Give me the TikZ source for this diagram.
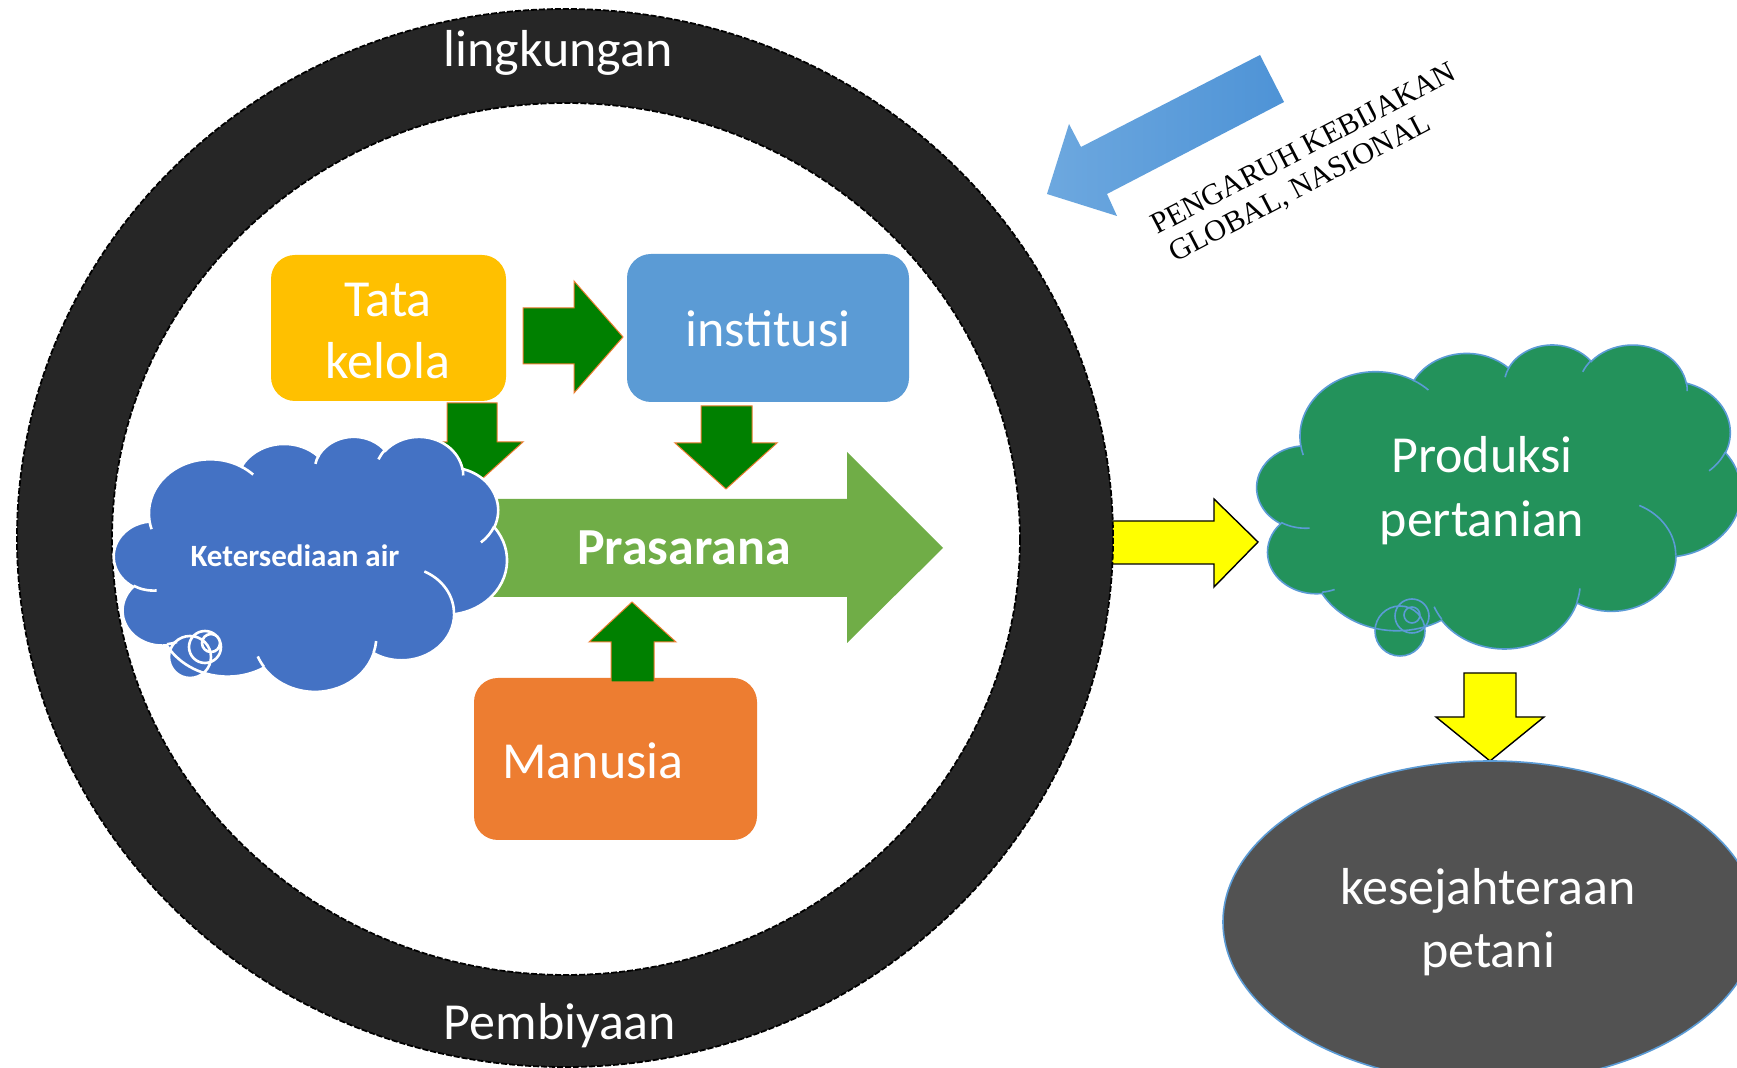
\documentclass[tikz,border=0pt]{standalone}
\usepackage{fontspec}
\setmainfont{Carlito}
\newfontfamily\timesf{Liberation Serif}
\definecolor{ringc}{HTML}{262626}
\definecolor{tatac}{HTML}{FFC000}
\definecolor{instc}{HTML}{5B9BD5}
\definecolor{manc}{HTML}{ED7D31}
\definecolor{prasc}{HTML}{70AD47}
\definecolor{garrc}{HTML}{008000}
\definecolor{cloudb}{HTML}{4472C4}
\definecolor{cloudg}{HTML}{23925B}
\definecolor{ellc}{HTML}{525252}
\definecolor{edgeb}{HTML}{5B9BD5}
\definecolor{barrowA}{HTML}{6DA8DF}
\definecolor{barrowB}{HTML}{4E93D6}
\definecolor{yelc}{HTML}{FFFF00}

\newcommand\cloudmain{}
\newcommand\cloudinner{}
\newcommand\mkcarc[4]{%
  \pgfmathsetmacro\ckA{#3}%
  \pgfmathsetmacro\ckB{#3+#4}%
  \pgfmathsetmacro\ctA{atan2(#1*sin(\ckA),#2*cos(\ckA))}%
  \pgfmathsetmacro\ctR{atan2(#1*sin(\ckB),#2*cos(\ckB))}%
  \pgfmathsetmacro\ctB{(\ctA)+mod((\ctR)-(\ctA)+720,360)}%
}
\newcommand\addmain[4]{\mkcarc{#1}{#2}{#3}{#4}%
  \xdef\cloudmain{\cloudmain arc[start angle=\ctA,end angle=\ctB,x radius=#1,y radius=#2]}}
\newcommand\addinner[6]{\mkcarc{#3}{#4}{#5}{#6}%
  \xdef\cloudinner{\cloudinner (#1,#2) arc[start angle=\ctA,end angle=\ctB,x radius=#3,y radius=#4]}}
\addmain{675.3}{919.0}{-190.4875}{123.7805}
\addmain{533.3}{726.7}{-144.1024}{89.9452}
\addmain{436.5}{594.5}{-145.8079}{99.7230}
\addmain{485.7}{659.5}{-130.9861}{117.2417}
\addmain{533.3}{727.3}{-78.7089}{109.0269}
\addmain{677.5}{922.0}{-46.2673}{130.2690}
\addmain{578.5}{786.7}{0.6250}{114.0333}
\addmain{675.2}{921.5}{22.4516}{115.1726}
\addmain{772.0}{1054.3}{66.2426}{75.7110}
\addmain{436.0}{591.8}{-274.9421}{146.7356}
\addmain{434.5}{594.5}{-246.8285}{152.5189}
\addinner{469.3}{2617.7}{434.5}{594.5}{86.7420}{26.4295}
\addinner{692.8}{3489.9}{436.0}{591.8}{73.6105}{11.4475}
\addinner{1647.8}{3909.0}{675.2}{921.5}{137.6242}{14.0811}
\addinner{2882.7}{3475.1}{675.2}{921.5}{6.4533}{15.9984}
\addinner{3412.9}{2295.4}{578.5}{786.7}{-70.2924}{70.9174}
\addinner{4179.8}{1535.4}{533.3}{727.3}{30.3180}{27.7515}
\addinner{3832.4}{542.6}{485.7}{659.5}{-13.7443}{14.8589}
\addinner{2907.8}{395.2}{485.7}{659.5}{-149.1815}{18.1954}
\addinner{2214.1}{472.0}{436.5}{594.5}{-163.4943}{19.0138}
\addinner{1400.0}{519.2}{675.3}{919.0}{-66.7070}{12.3194}
\addinner{412.7}{1578.9}{675.3}{919.0}{157.6544}{11.8582}

% cloud: L T W H style
\newcommand\cloudfill[5]{%
  \pgfmathsetmacro\cwx{#3/8640}\pgfmathsetmacro\chy{#4/8640}%
  \begin{scope}[shift={(#1,#2)}, x=\cwx pt, y=-\chy pt]
    \fill[#5] (390,1437) \cloudmain -- cycle;
  \end{scope}}
\newcommand\cloudstroke[5]{%
  \pgfmathsetmacro\cwx{#3/8640}\pgfmathsetmacro\chy{#4/8640}%
  \begin{scope}[shift={(#1,#2)}, x=\cwx pt, y=-\chy pt]
    \draw[#5] (390,1437) \cloudmain -- cycle;
    \draw[#5] \cloudinner;
  \end{scope}}

\begin{document}
\begin{tikzpicture}[x=0.5pt,y=-0.5pt,
  txt/.style={text=white, inner sep=0pt, anchor=base, font=\fontsize{26}{31}\selectfont},
  ptxt/.style={rotate=27.5, anchor=base west, inner sep=0pt, font=\timesf\fontsize{15}{18}\selectfont},
  garrow/.style={fill=garrc, draw=manc, line width=0.5pt, line join=miter},
  yarrow/.style={fill=yelc, draw=black, line width=0.7pt, line join=miter},
  ringedge/.style={draw=black, line width=0.9pt, dash pattern=on 3pt off 1pt},
  boxr/.style={rounded corners=12pt}]
\useasboundingbox (0,0) rectangle (1737,1068);
\fill[white] (0,0) rectangle (1737,1068);

% yellow arrow ring -> production
\filldraw[yarrow] (1095,521) -- (1214,521) -- (1214,499) -- (1258,542) -- (1214,587) -- (1214,564) -- (1095,564) -- cycle;

% ring
\fill[ringc, even odd rule] (565,538) ellipse[x radius=548, y radius=529] (566,539) ellipse[x radius=454, y radius=436];
\draw[ringedge] (565,538) ellipse[x radius=548, y radius=529];
\draw[ringedge] (566,539) ellipse[x radius=454, y radius=436];
\node[txt] (lingk) at (558,67) {lingkungan};
\node[txt] (biaya) at (560,1040) {Pembiyaan};

% policy arrow
\shade[left color=barrowA, right color=barrowB] (1260,55) -- (1081,147) -- (1069,124) -- (1047,194) -- (1117,216) -- (1107,194) -- (1284,102) -- cycle;
\node[ptxt] (peng1) at (1157,235) {PENGARUH KEBIJAKAN};
\node[ptxt] (peng2) at (1175,263) {GLOBAL, NASIONAL};

% production cloud
\cloudfill{1257}{344}{484}{304}{cloudg}
\fill[cloudg] (1400,631) circle[radius=25] (1412,616) circle[radius=17] (1412,615) circle[radius=8];
\cloudstroke{1257}{344}{484}{304}{draw=edgeb, line width=0.8pt}
\draw[edgeb, line width=0.8pt] (1400,631) circle[radius=25] (1412,616) circle[radius=17] (1412,615) circle[radius=8];
\node[txt] (prod1) at (1482,473) {Produksi};
\node[txt] (prod2) at (1482,537) {pertanian};

% yellow down arrow
\filldraw[yarrow] (1464,673) -- (1516,673) -- (1516,717) -- (1544,717) -- (1490,761) -- (1436,717) -- (1464,717) -- cycle;

% welfare ellipse
\filldraw[fill=ellc, draw=edgeb, line width=0.8pt] (1490,922) ellipse[x radius=267, y radius=161];
\node[txt] (kes1) at (1488,905) {kesejahteraan};
\node[txt] (kes2) at (1488,968) {petani};

% boxes
\fill[tatac, boxr] (271,255) rectangle (506,401);
\node[txt] (tata1) at (388,317) {Tata};
\node[txt] (tata2) at (388,379) {kelola};
\fill[instc, boxr] (627,254) rectangle (909,402);
\node[txt] (inst) at (768,347) {institusi};
\fill[manc, boxr] (474,678) rectangle (757,840);
\node[txt] (manus) at (593,779) {Manusia};

% green arrows
\filldraw[garrow] (523,308) -- (574,308) -- (574,281) -- (623,337) -- (574,393) -- (574,364) -- (523,364) -- cycle;
\filldraw[garrow] (701,406) -- (752,406) -- (752,443) -- (777,443) -- (726,489) -- (675,443) -- (701,443) -- cycle;
\filldraw[garrow] (611,682) -- (611,642) -- (589,642) -- (632,602) -- (676,642) -- (654,642) -- (654,682) -- cycle;

% prasarana arrow
\fill[prasc] (470,499) -- (847,499) -- (847,452) -- (943,548) -- (847,643) -- (847,597) -- (470,597) -- cycle;
\node[txt, font=\fontsize{26}{31}\selectfont\bfseries] (pras) at (684,565) {Prasarana};

\filldraw[garrow] (447,403) -- (497,403) -- (497,442) -- (523,442) -- (472,488) -- (421,442) -- (447,442) -- cycle;

% water cloud
\cloudfill{114}{436}{393}{255}{cloudb}
\fill[cloudb] (190,657) circle[radius=21] (205,647) circle[radius=16] (211,643) circle[radius=9];
\cloudstroke{114}{436}{393}{255}{draw=white, line width=1.3pt}
\draw[white, line width=1.3pt] (190,657) circle[radius=21] (205,647) circle[radius=16] (211,643) circle[radius=9];
\node[txt, font=\fontsize{15.5}{18}\selectfont\bfseries] (air) at (295,567) {Ketersediaan air};
\end{tikzpicture}
\end{document}
